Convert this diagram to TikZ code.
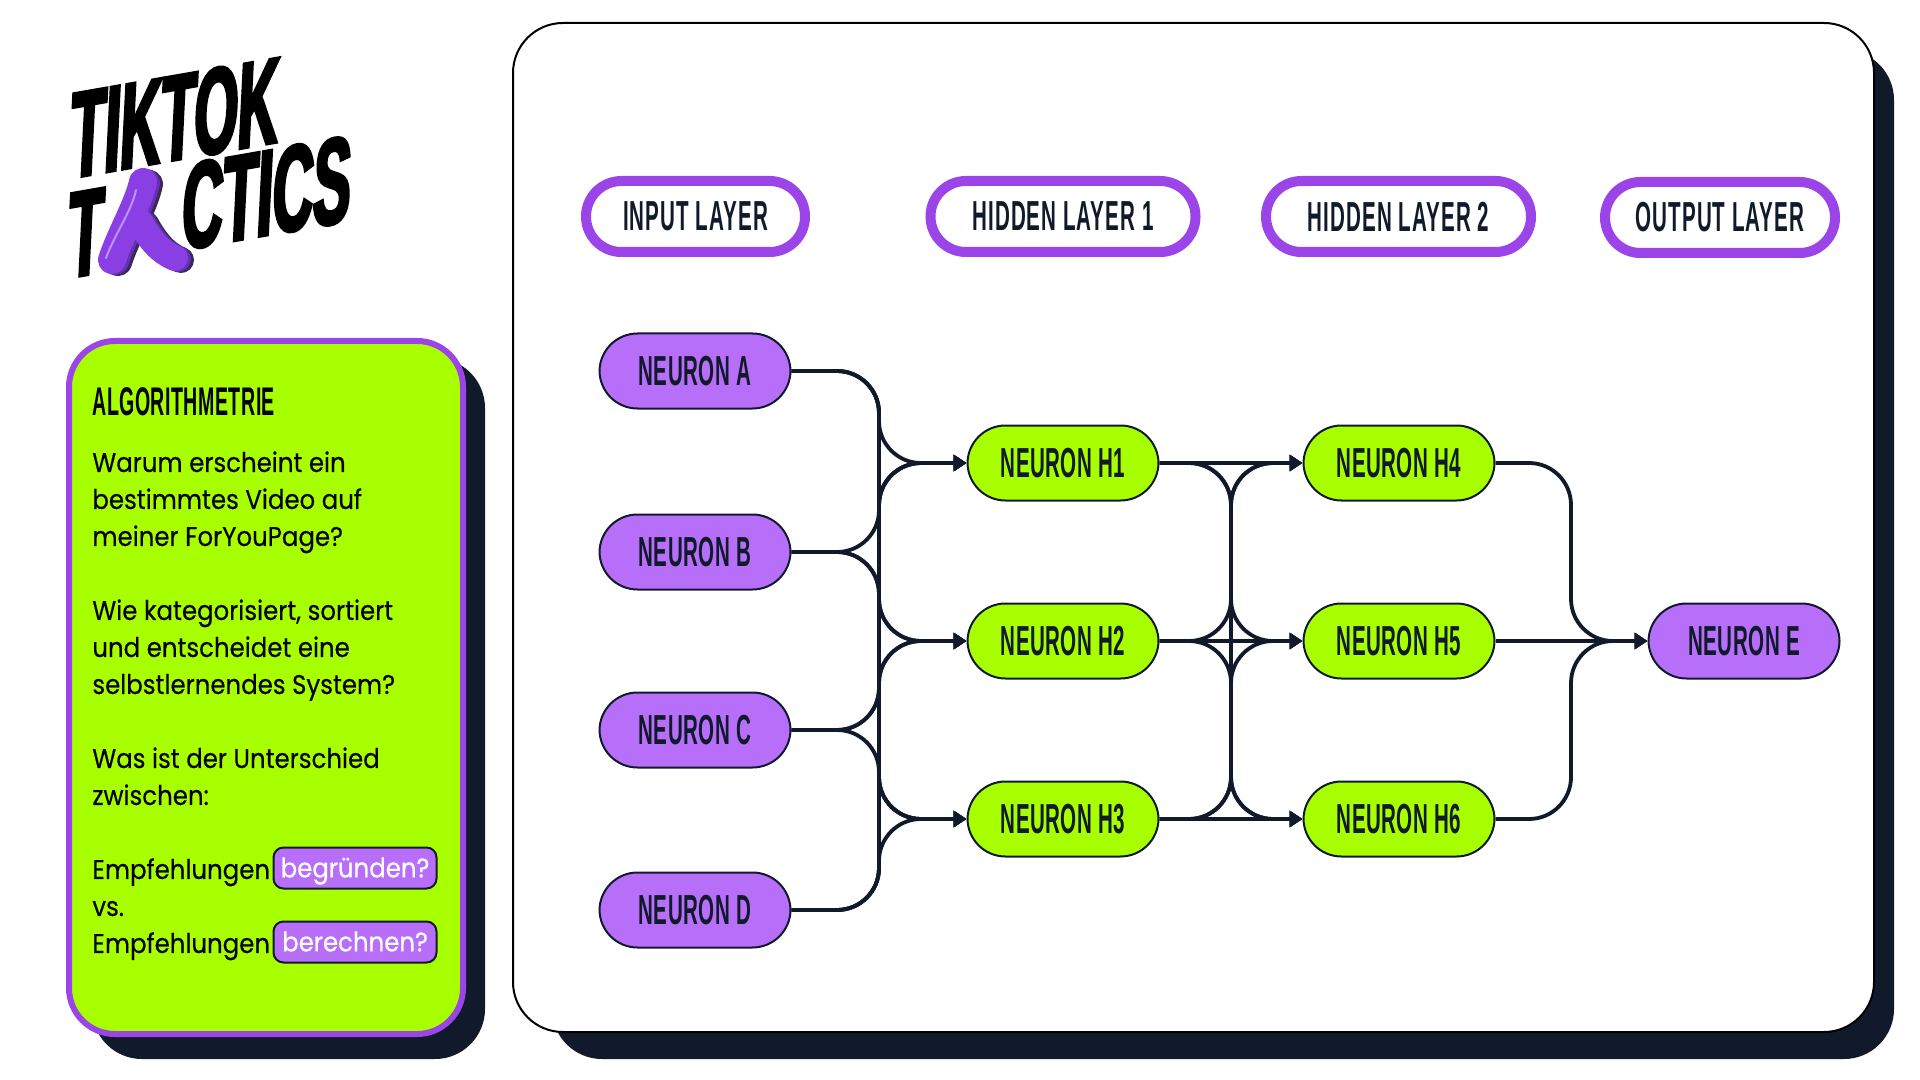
\documentclass[tikz,border=0pt]{standalone}
\usepackage{fontspec}
\usetikzlibrary{arrows.meta}
\setmainfont{Poppins}[FakeStretch=0.905,FakeBold=0.35]
\newfontfamily\condf{Liberation Sans}[FakeStretch=0.49,LetterSpace=1.2]
\newfontfamily\headf{Liberation Sans}[FakeStretch=0.49,LetterSpace=2.5]
\newfontfamily\logoa{Liberation Sans}[FakeStretch=0.46,FakeBold=2.5]
\newfontfamily\logob{Liberation Sans}[FakeStretch=0.46,FakeBold=2.5]
\definecolor{lime}{HTML}{A8FF00}
\definecolor{ink}{HTML}{111A2B}
\definecolor{pfill}{HTML}{B76FFA}
\definecolor{pline}{HTML}{9B45E8}
\definecolor{blobmain}{HTML}{8A3FE4}
\definecolor{blobedge}{HTML}{6430B4}
\definecolor{blobshade}{HTML}{3A2A55}
\definecolor{blobhigh}{HTML}{BE91FA}
\tikzset{
 x=0.5pt,y=-0.5pt,
 neuron/.style={draw=ink,line width=1pt,rounded corners=19pt,minimum width=95.5pt,minimum height=37.5pt,inner sep=0pt,text=ink,font=\condf\bfseries\fontsize{21}{21}\selectfont},
 inneuron/.style={neuron,fill=pfill},
 hidneuron/.style={neuron,fill=lime},
 header/.style={draw=pline,fill=white,line width=5pt,rounded corners=17.7pt,minimum height=35.5pt,inner sep=0pt,text=ink,font=\headf\bfseries\fontsize{21}{21}\selectfont},
 conn/.style={draw=ink,line width=1.9pt,rounded corners=21pt,-{Triangle[length=6.5pt,width=8pt]}},
 askpill/.style={draw=ink,fill=pfill,line width=1pt,rounded corners=5pt,minimum width=81.5pt,minimum height=20.5pt,inner sep=0pt,text height=11.2pt,text depth=1.8pt,text=white,font=\fontsize{13.5}{13.5}\selectfont},
 logoslant/.style={yslant=0.175,xslant=0.05,transform shape,inner sep=0pt,text=black},
 blobleft/.style={line cap=round,line join=round,line width=14pt},
 blobright/.style={line cap=round,line join=round,line width=13pt}
}
\newcommand{\blobshape}[1]{%
 \draw[blobleft,#1] (143,182) .. controls (138,205) and (120,235) .. (112,260);
 \draw[blobright,#1] (140,222) .. controls (150,240) and (160,252) .. (175,258);
}
\begin{document}
\begin{tikzpicture}
\useasboundingbox (0,0) rectangle (1920,1080);
% panels
\fill[ink,rounded corners=25pt] (552,50) rectangle (1894,1059);
\draw[black,fill=white,line width=1pt,rounded corners=25pt] (513,23) rectangle (1874,1032);
\fill[ink,rounded corners=25pt] (92,358) rectangle (485,1059);
\draw[pline,fill=lime,line width=3pt,rounded corners=23pt] (69,341) rectangle (463,1034);
% logo
\node[logoslant,font=\logoa\bfseries\fontsize{61}{61}\selectfont] (logo1) at (175,118) {TIKTOK};
\node[logoslant,font=\logob\bfseries\fontsize{61}{61}\selectfont] (logo2) at (86,233) {T};
\node[logoslant,font=\logob\bfseries\fontsize{61}{61}\selectfont] (logo3) at (267,193) {CTICS};
\begin{scope}[shift={(6,2)}]\blobshape{blobshade}\end{scope}
\begin{scope}[shift={(3,1)}]\blobshape{blobedge}\end{scope}
\blobshape{blobmain}
\draw[line width=1pt,color=blobhigh,line cap=round] (136,190) .. controls (132,210) and (114,236) .. (106,258);
% sidebar text
\node[anchor=north west,inner sep=0pt,text=black,font=\condf\bfseries\fontsize{20}{20}\selectfont] (sidehead) at (92,387) {ALGORITHMETRIE};
\node[anchor=north west,inner sep=0pt,align=left,text=black,font=\fontsize{13.5}{18.5}\selectfont] (sidetext) at (92,451) {Warum erscheint ein\\bestimmtes Video auf\\meiner ForYouPage?\\[18.5pt]Wie kategorisiert, sortiert\\und entscheidet eine\\selbstlernendes System?\\[18.5pt]Was ist der Unterschied\\zwischen:\\[18.5pt]Empfehlungen\\vs.\\Empfehlungen};
\node[askpill] (ask1) at (355,868) {begründen?};
\node[askpill] (ask2) at (355,942) {berechnen?};
% headers
\node[header,minimum width=109.5pt] (hin) at (695.5,216.5) {INPUT LAYER};
\node[header,minimum width=132.5pt] (h1) at (1063,216.5) {HIDDEN LAYER 1};
\node[header,minimum width=132.5pt] (h2) at (1398.5,216.5) {HIDDEN LAYER 2};
\node[header,minimum width=115pt] (hout) at (1720,217.5) {OUTPUT LAYER};
% neurons
\node[inneuron] (nA) at (695,371) {NEURON A};
\node[inneuron] (nB) at (695,552) {NEURON B};
\node[inneuron] (nC) at (695,730) {NEURON C};
\node[inneuron] (nD) at (695,910) {NEURON D};
\node[hidneuron] (nH1) at (1063,463) {NEURON H1};
\node[hidneuron] (nH2) at (1063,641) {NEURON H2};
\node[hidneuron] (nH3) at (1063,819) {NEURON H3};
\node[hidneuron] (nH4) at (1399,463) {NEURON H4};
\node[hidneuron] (nH5) at (1399,641) {NEURON H5};
\node[hidneuron] (nH6) at (1399,819) {NEURON H6};
\node[inneuron] (nE) at (1744,641) {NEURON E};
\coordinate (bus1) at (879,0);
\coordinate (bus2) at (1231,0);
\coordinate (bus3) at (1571,0);
\foreach \a in {A,B,C,D}
 \foreach \b in {H1,H2,H3}
  \draw[conn] (n\a.east) -- (n\a.east -| bus1) -- (bus1 |- n\b.west) -- (n\b.west);
\foreach \a/\b in {H1/H5,H1/H6,H2/H4,H2/H6,H3/H4,H3/H5}
  \draw[conn] (n\a.east) -- (n\a.east -| bus2) -- (bus2 |- n\b.west) -- (n\b.west);
\foreach \a/\b in {H1/H4,H2/H5,H3/H6}
  \draw[conn] (n\a.east) -- (n\b.west);
\foreach \a in {H4,H6}
  \draw[conn] (n\a.east) -- (n\a.east -| bus3) -- (bus3 |- nE.west) -- (nE.west);
\draw[conn] (nH5.east) -- (nE.west);
\end{tikzpicture}
\end{document}
